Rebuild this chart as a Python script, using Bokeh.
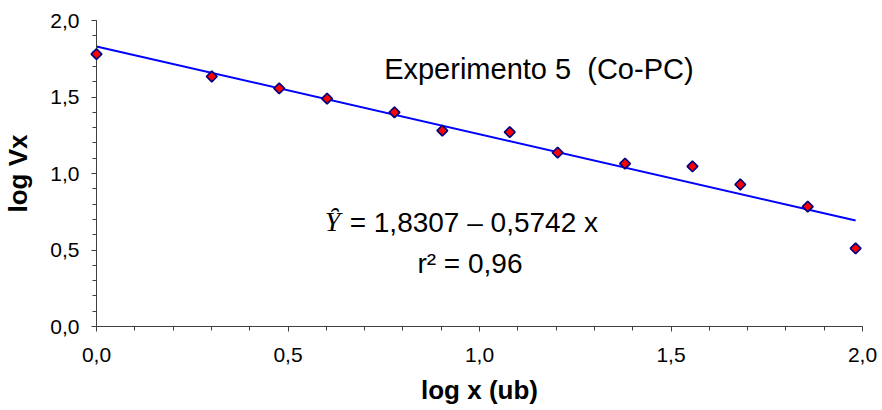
import math
from bokeh.plotting import figure
from bokeh.models import FixedTicker, CustomJSTickFormatter, Label, Range1d, ColumnDataSource
from bokeh.embed import file_html
from bokeh.resources import INLINE

# ---- data ----
log_x = [0.0, 0.301, 0.477, 0.602, 0.778, 0.903, 1.079, 1.204, 1.380, 1.556, 1.681, 1.857, 1.982]
log_vx = [1.78, 1.634, 1.556, 1.49, 1.40, 1.28, 1.27, 1.137, 1.065, 1.046, 0.928, 0.784, 0.51]
intercept = 1.8307
slope = -0.5742
major_ticks = [0.0, 0.5, 1.0, 1.5, 2.0]
minor_ticks = [0.0, 0.1, 0.2, 0.3, 0.4, 0.5, 0.6, 0.7, 0.8, 0.9, 1.0,
               1.1, 1.2, 1.3, 1.4, 1.5, 1.6, 1.7, 1.8, 1.9, 2.0]
title_text = "Experimento 5\u00a0 (Co-PC)"
eq_text = "= 1,8307 \u2013 0,5742 x"
r2_text = "r\u00b2 = 0,96"

FONT = "Liberation Sans"

p = figure(width=882, height=410, x_range=Range1d(0, 2), y_range=Range1d(0, 2),
           output_backend="svg", toolbar_location=None,
           min_border_left=94, min_border_right=20, min_border_top=20, min_border_bottom=84)
p.outline_line_color = None
p.grid.visible = False
p.background_fill_color = "white"
p.border_fill_color = "white"

fmt = CustomJSTickFormatter(code="return tick.toFixed(1).replace('.', ',');")
for ax in (p.xaxis[0], p.yaxis[0]):
    ax.ticker = FixedTicker(ticks=major_ticks, minor_ticks=minor_ticks)
    ax.formatter = fmt
    ax.axis_line_color = "#404040"
    ax.major_tick_line_color = "#404040"
    ax.minor_tick_line_color = "#404040"
    ax.major_tick_out = 5
    ax.major_tick_in = 0
    ax.minor_tick_out = 4
    ax.minor_tick_in = 0
    ax.major_label_text_font = FONT
    ax.major_label_text_font_size = "21px"
    ax.major_label_text_color = "black"
    ax.axis_label_text_font = FONT
    ax.axis_label_text_font_size = "26px"
    ax.axis_label_text_font_style = "bold"
    ax.axis_label_text_color = "black"

p.xaxis.axis_label = "log x (ub)"
p.yaxis.axis_label = "log Vx"
p.xaxis.major_label_standoff = 16
p.xaxis.axis_label_standoff = 10
p.yaxis.major_label_standoff = 12
p.yaxis.axis_label_standoff = 14

# regression line
xl = [0.0, max(log_x)]
yl = [intercept + slope * v for v in xl]
p.line(xl, yl, line_color="#0000FF", line_width=2)

src = ColumnDataSource(dict(x=log_x, y=log_vx))
p.scatter("x", "y", source=src, marker="square", angle=math.pi / 4, size=7.5,
          fill_color="#FF0000", line_color="#000080", line_width=1.7, level="overlay")

p.add_layout(Label(x=1.155, y=1.68, text=title_text, text_align="center",
                   text_baseline="alphabetic", text_font=FONT, text_font_size="29px",
                   text_color="black"))
p.add_layout(Label(x=0.596, y=0.686, text="Y\u0311", text_align="left",
                   text_baseline="alphabetic", text_font="Liberation Serif",
                   text_font_style="italic", text_font_size="28px", text_color="black"))
p.add_layout(Label(x=0.661, y=0.683, text=eq_text, text_align="left",
                   text_baseline="alphabetic", text_font=FONT, text_font_size="28px",
                   text_color="black"))
p.add_layout(Label(x=0.975, y=0.411, text=r2_text, text_align="center",
                   text_baseline="alphabetic", text_font=FONT, text_font_size="28px",
                   text_color="black"))

open("out.html", "w").write(file_html(p, INLINE))
